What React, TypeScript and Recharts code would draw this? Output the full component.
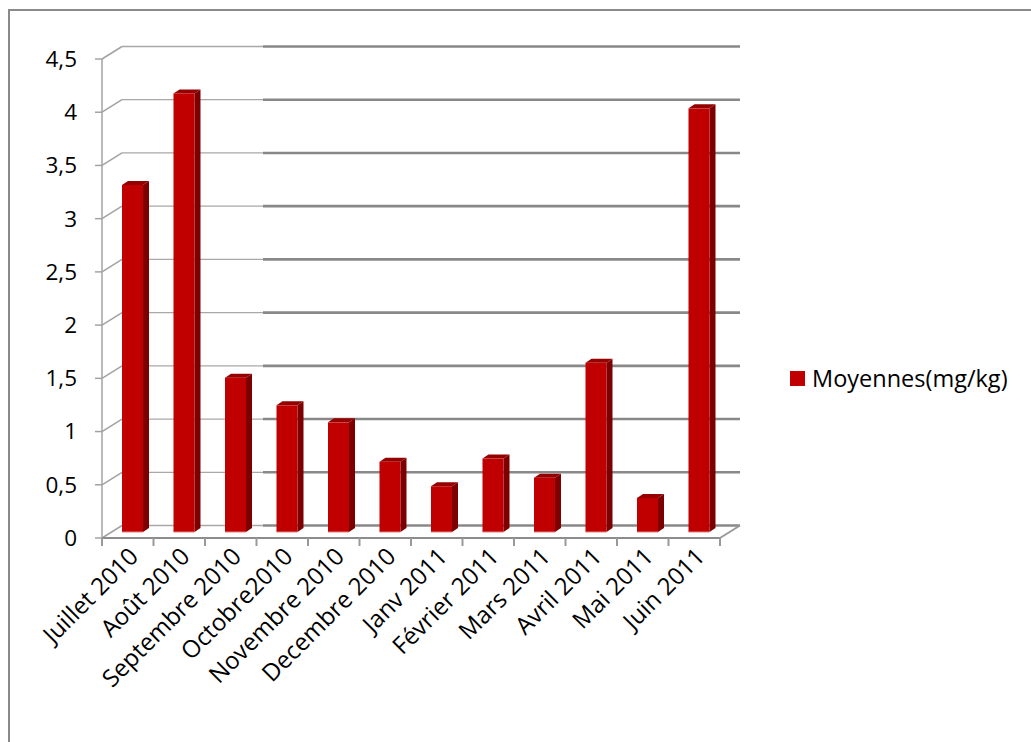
import React from 'react'
import {
  BarChart,
  Bar,
  XAxis,
  YAxis,
  CartesianGrid,
  Legend,
} from 'recharts'

const months = [
  'Juillet 2010',
  'Août 2010',
  'Septembre 2010',
  'Octobre2010',
  'Novembre 2010',
  'Decembre 2010',
  'Janv 2011',
  'Février 2011',
  'Mars 2011',
  'Avril 2011',
  'Mai 2011',
  'Juin 2011',
]
const moyennes = [3.26, 4.12, 1.45, 1.19, 1.03, 0.66, 0.43, 0.69, 0.51, 1.59, 0.32, 3.98]
const yTicks = [0, 0.5, 1, 1.5, 2, 2.5, 3, 3.5, 4, 4.5]
const seriesName = 'Moyennes(mg/kg)'

const data = months.map((month, i) => ({ month, value: moyennes[i] }))

// fake 3D depth of the back wall, relative to the front plane
const DX = 20
const DY = -12.5
const FONT = '"Open Sans", sans-serif'

function GridLine(props: any) {
  const { x1, x2, y1 } = props
  const bx = x1 + DX
  const by = y1 + DY
  const split = bx + 141
  return (
    <g key={props.key}>
      <line x1={x1} y1={y1} x2={bx} y2={by} stroke="#a3a3a3" strokeWidth={1.5} />
      <line x1={bx} y1={by} x2={split} y2={by} stroke="#a8a8a8" strokeWidth={1.3} />
      <line x1={split} y1={by} x2={x2 + DX} y2={by} stroke="#888" strokeWidth={2.6} />
    </g>
  )
}

function YTick(props: any) {
  const { x, y, payload } = props
  return (
    <g>
      <line x1={x - 7} y1={y} x2={x} y2={y} stroke="#a3a3a3" strokeWidth={1.5} />
      <text
        x={x - 25}
        y={y}
        dy="0.35em"
        textAnchor="end"
        fontFamily={FONT}
        fontSize={22.5}
        fill="#000"
      >
        {String(payload.value).replace('.', ',')}
      </text>
    </g>
  )
}

function XTick(props: any) {
  const { x, y, payload, index } = props
  const half = payload.offset || 25.75
  const last = index === months.length - 1
  const lx = x + 12
  const ly = y + 20
  return (
    <g>
      <line x1={x - half} y1={y} x2={x - half} y2={y + 8} stroke="#999" strokeWidth={2} />
      {last && (
        <g>
          <line x1={x + half} y1={y} x2={x + half} y2={y + 8} stroke="#999" strokeWidth={2} />
          <line x1={x + half} y1={y} x2={x + half + DX} y2={y + DY} stroke="#999" strokeWidth={2} />
        </g>
      )}
      <text
        x={lx}
        y={ly}
        textAnchor="end"
        transform={`rotate(-45, ${lx}, ${ly})`}
        fontFamily={FONT}
        fontSize={24}
        fill="#000"
      >
        {payload.value}
      </text>
    </g>
  )
}

function Bar3D(props: any) {
  const { x, y, width, height } = props
  if (!height || height <= 0) return null
  const side = 6
  const depth = 4
  const fx = x + 8
  const top = y - 6
  const bottom = top + height
  const fw = width - side
  return (
    <g>
      <polygon
        points={`${fx + fw},${top} ${fx + fw + side},${top - depth} ${fx + fw + side},${bottom - depth} ${fx + fw},${bottom}`}
        fill="#7c0000"
      />
      <polygon
        points={`${fx},${top} ${fx + side},${top - depth} ${fx + fw + side},${top - depth} ${fx + fw},${top}`}
        fill="#950000"
      />
      <rect x={fx} y={top} width={fw} height={height} fill="#c00000" />
      <line x1={fx} y1={bottom} x2={fx + fw} y2={bottom} stroke="#e58080" strokeWidth={1} />
    </g>
  )
}

function LegendBox() {
  return (
    <div style={{ display: 'flex', alignItems: 'center', fontFamily: FONT, fontSize: 23.5, color: '#000' }}>
      <span style={{ width: 15, height: 15, background: '#c00000', marginRight: 7, display: 'inline-block' }} />
      <span>{seriesName}</span>
    </div>
  )
}

export default function App() {
  return (
    <div style={{ position: 'fixed', left: 0, top: 0, width: 1031, height: 742, background: '#fff', overflow: 'hidden' }}>
      <div
        style={{
          position: 'absolute',
          left: 8,
          top: 9,
          width: 1100,
          height: 800,
          borderLeft: '2px solid #8a8a8a',
          borderTop: '2px solid #8a8a8a',
        }}
      />
      <div style={{ position: 'absolute', left: 0, top: 0 }}>
        <BarChart
          width={1031}
          height={742}
          data={data}
          margin={{ top: 59, right: 71, bottom: 0, left: 0 }}
          barCategoryGap={0}
        >
          <CartesianGrid vertical={false} horizontal={(p: any) => <GridLine {...p} />} />
          <XAxis
            dataKey="month"
            interval={0}
            height={204}
            tickSize={0}
            tickMargin={0}
            tickLine={false}
            axisLine={{ stroke: '#8c8c8c', strokeWidth: 2 }}
            tick={<XTick />}
          />
          <YAxis
            type="number"
            domain={[0, 4.5]}
            ticks={yTicks}
            width={102}
            tickSize={0}
            tickMargin={0}
            tickLine={false}
            axisLine={{ stroke: '#a3a3a3', strokeWidth: 1.5 }}
            tick={<YTick />}
          />
          <Legend
            layout="vertical"
            align="right"
            verticalAlign="middle"
            content={<LegendBox />}
            wrapperStyle={{ width: 240, left: 790, right: 'auto', top: 362 }}
          />
          <Bar
            dataKey="value"
            name={seriesName}
            barSize={27}
            shape={<Bar3D />}
            isAnimationActive={false}
          />
        </BarChart>
      </div>
    </div>
  )
}
